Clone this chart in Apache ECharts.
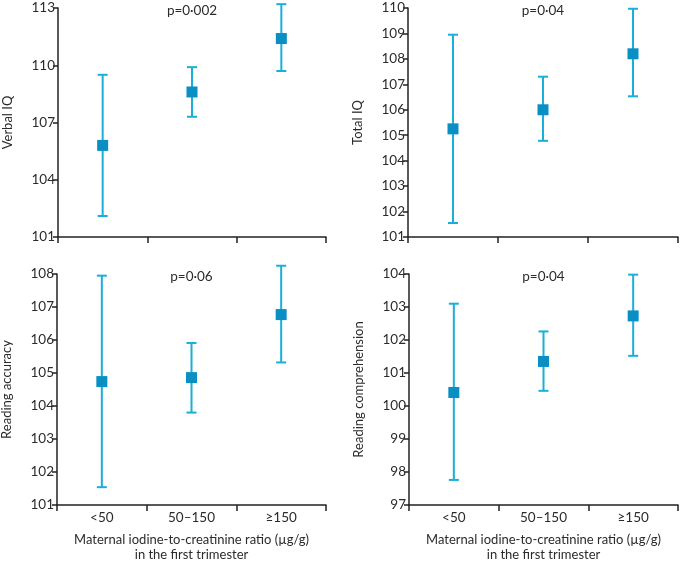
<!DOCTYPE html>
<html>
<head>
<meta charset="utf-8">
<script src="https://cdn.jsdelivr.net/npm/echarts@6/dist/echarts.min.js"></script>
<style>
html,body{margin:0;padding:0;background:#fff;}
#chart{width:681px;height:563px;}
</style>
</head>
<body>
<div id="chart"></div>
<script>
// ---- data ----
var categories = ['<50', '50\u2013150', '\u2265150'];

var verbalMean  = [105.8, 108.6, 111.4];
var verbalLow   = [102.1, 107.3, 109.7];
var verbalHigh  = [109.5, 109.9, 113.2];

var totalMean   = [105.25, 106.0, 108.2];
var totalLow    = [101.55, 104.78, 106.53];
var totalHigh   = [108.95, 107.3, 109.97];

var accMean     = [104.74, 104.86, 106.77];
var accLow      = [101.54, 103.8, 105.32];
var accHigh     = [107.95, 105.91, 108.25];

var compMean    = [100.41, 101.35, 102.73];
var compLow     = [97.76, 100.46, 101.52];
var compHigh    = [103.1, 102.26, 103.98];

var panelNames  = ['Verbal IQ', 'Total IQ', 'Reading accuracy', 'Reading comprehension'];
var pValues     = ['p=0\u00b7002', 'p=0\u00b704', 'p=0\u00b706', 'p=0\u00b704'];
var yMin        = [101, 101, 101, 97];
var yMax        = [113, 110, 108, 104];
var yInterval   = [3, 1, 1, 1];
var xTitle      = 'Maternal iodine-to-creatinine ratio (\u00b5g/g)\nin the first trimester';

// ---- styling / layout ----
var FONT = 'Lato';
var barColor = '#1aaedb';
var markColor = '#0a8fc4';
var axisColor = '#222';
var textColor = '#2b2b2b';

var grids = [
  {left: 58, top: 8, width: 268, height: 229, outerBoundsMode: 'none'},
  {left: 408, top: 8, width: 270, height: 229, outerBoundsMode: 'none'},
  {left: 57, top: 274, width: 269, height: 231, outerBoundsMode: 'none'},
  {left: 409, top: 274, width: 269, height: 231, outerBoundsMode: 'none'}
];

var means = [verbalMean, totalMean, accMean, compMean];
var lows = [verbalLow, totalLow, accLow, compLow];
var highs = [verbalHigh, totalHigh, accHigh, compHigh];

var xAxes = [], yAxes = [], series = [], titles = [];
for (var i = 0; i < 4; i++) {
  var bottomRow = i >= 2;
  xAxes.push({
    type: 'category', gridIndex: i, data: categories, boundaryGap: true,
    axisLine: {lineStyle: {color: axisColor, width: 1.5}},
    axisTick: {show: true, length: 6, inside: false, lineStyle: {color: axisColor, width: 1.5}},
    axisLabel: {show: bottomRow, color: textColor, fontFamily: FONT, fontSize: 13.5, margin: 6},
    name: bottomRow ? xTitle : '',
    nameLocation: 'middle', nameGap: 27,
    nameTextStyle: {color: textColor, fontFamily: FONT, fontSize: 13, lineHeight: 15, verticalAlign: 'top'},
    splitLine: {show: false}
  });
  yAxes.push({
    type: 'value', gridIndex: i, min: yMin[i], max: yMax[i], interval: yInterval[i],
    axisLine: {show: true, lineStyle: {color: axisColor, width: 1.5}},
    axisTick: {show: true, length: 5, lineStyle: {color: axisColor, width: 1.5}},
    axisLabel: {color: textColor, fontFamily: FONT, fontSize: 13.5, margin: 3},
    splitLine: {show: false},
    name: panelNames[i], nameLocation: 'middle', nameGap: 44, nameRotate: 90,
    nameTextStyle: {color: textColor, fontFamily: FONT, fontSize: 13}
  });
  var ebData = [];
  for (var j = 0; j < categories.length; j++) ebData.push([j, lows[i][j], highs[i][j]]);
  series.push({
    type: 'custom', xAxisIndex: i, yAxisIndex: i, data: ebData, z: 2,
    renderItem: function (params, api) {
      var x = api.value(0);
      var lo = api.coord([x, api.value(1)]);
      var hi = api.coord([x, api.value(2)]);
      var hw = 5;
      var st = {stroke: barColor, lineWidth: 2};
      return {type: 'group', children: [
        {type: 'line', shape: {x1: lo[0], y1: lo[1], x2: hi[0], y2: hi[1]}, style: st},
        {type: 'line', shape: {x1: lo[0] - hw, y1: lo[1], x2: lo[0] + hw, y2: lo[1]}, style: st},
        {type: 'line', shape: {x1: hi[0] - hw, y1: hi[1], x2: hi[0] + hw, y2: hi[1]}, style: st}
      ]};
    },
    encode: {x: 0, y: [1, 2]}
  });
  series.push({
    type: 'scatter', xAxisIndex: i, yAxisIndex: i, data: means[i], z: 3,
    symbol: 'rect', symbolSize: 11, itemStyle: {color: markColor, opacity: 1}
  });
  titles.push({
    text: pValues[i], padding: 0,
    left: grids[i].left + grids[i].width / 2, top: grids[i].top - 4,
    textAlign: 'center',
    textStyle: {color: textColor, fontFamily: FONT, fontSize: 13.5, fontWeight: 'normal'}
  });
}

var chart = echarts.init(document.getElementById('chart'), null, {renderer: 'canvas'});
chart.setOption({
  animation: false,
  backgroundColor: '#fff',
  title: titles,
  grid: grids,
  xAxis: xAxes,
  yAxis: yAxes,
  series: series
});
</script>
</body>
</html>
